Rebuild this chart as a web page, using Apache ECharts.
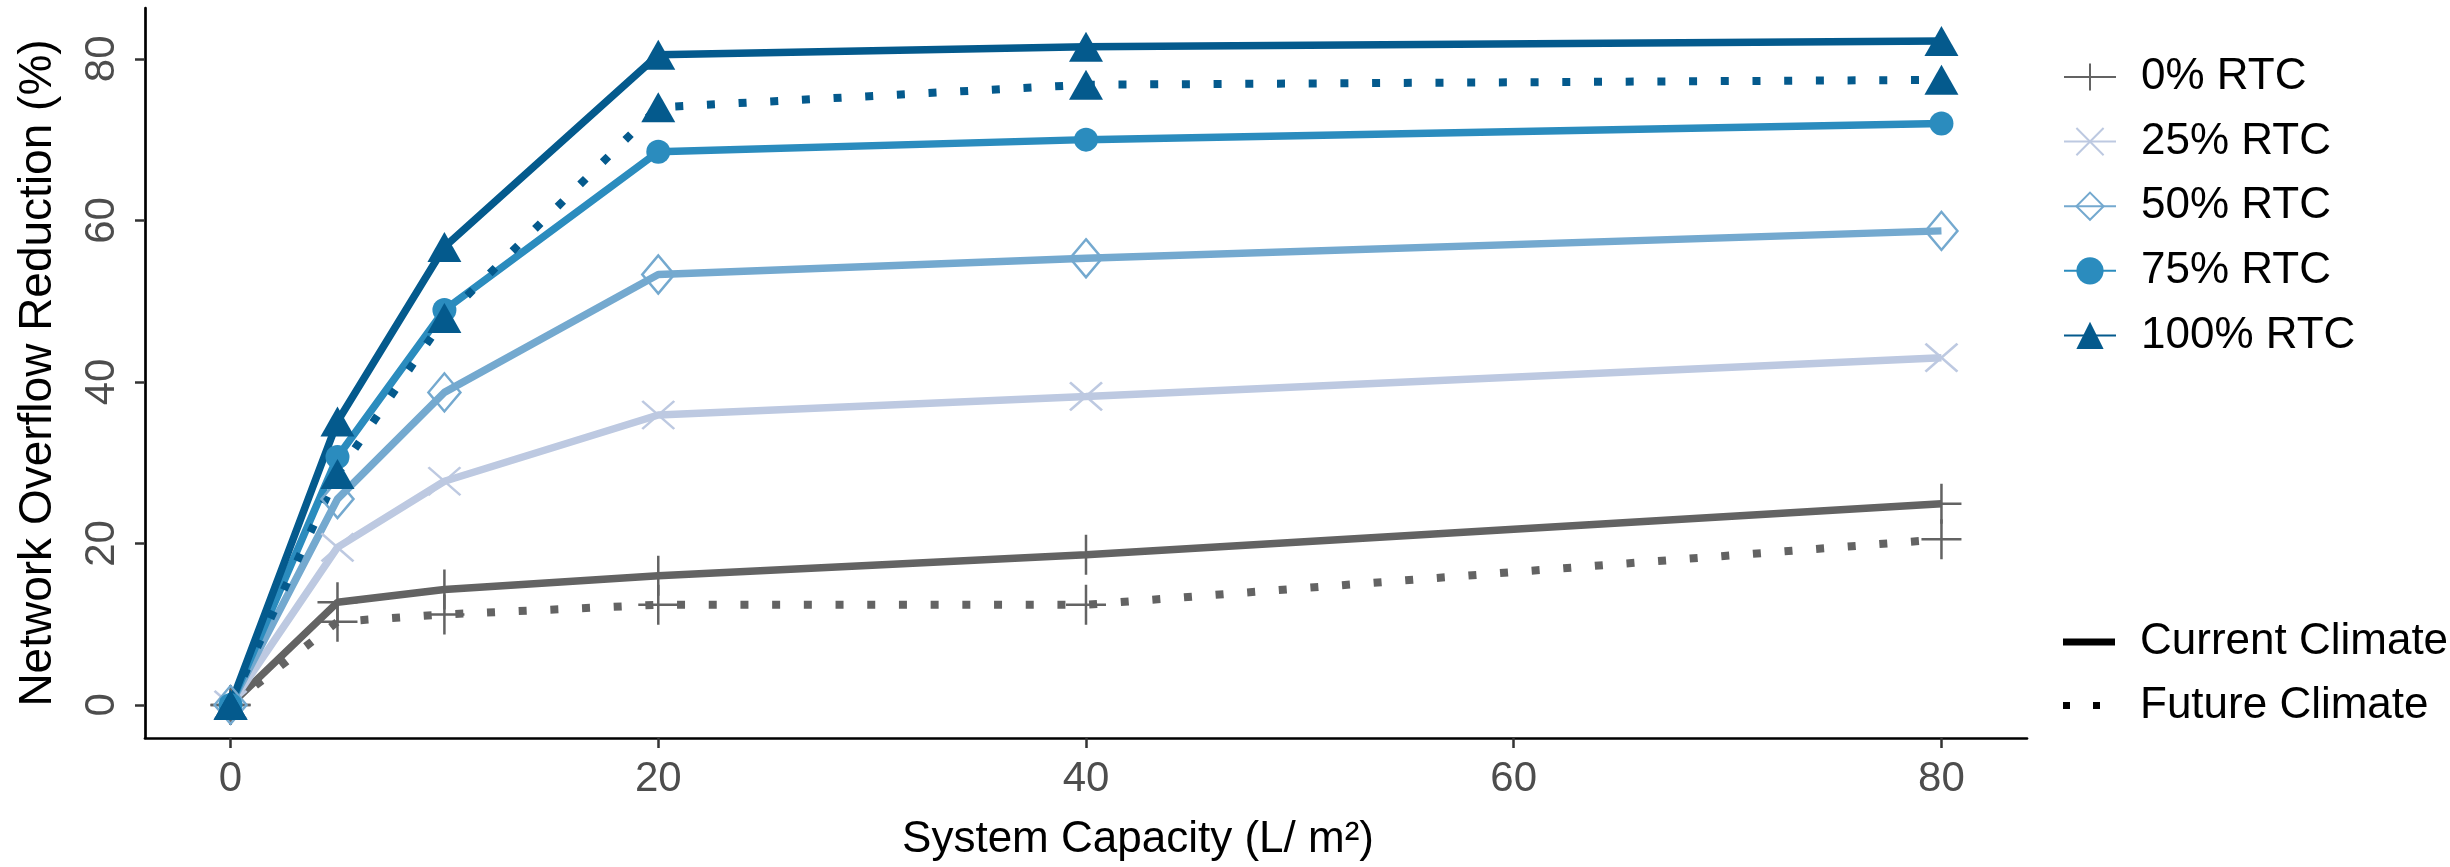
<!DOCTYPE html>
<html><head><meta charset="utf-8">
<script src="https://cdn.jsdelivr.net/npm/echarts@6/dist/echarts.min.js"></script>
<style>html,body{margin:0;padding:0;background:#fff}#c{width:2450px;height:867px}</style>
</head><body><div id="c"></div>
<script>
const capacity = [0, 5, 10, 20, 40, 80];
const rtc0Current = [0, 12.7, 14.3, 16.0, 18.6, 24.9];
const rtc0Future = [0, 10.3, 11.2, 12.4, 12.4, 20.5];
const rtc25Current = [0, 19.5, 27.7, 35.9, 38.2, 43.0];
const rtc50Current = [0, 25.5, 38.7, 53.3, 55.3, 58.7];
const rtc75Current = [0, 30.7, 48.9, 68.5, 70.0, 72.0];
const rtc100Current = [0, 35.1, 56.7, 80.5, 81.5, 82.2];
const rtc100Future = [0, 28.6, 47.9, 74.0, 76.8, 77.4];
const xTicks = [0, 20, 40, 60, 80];
const yTicks = [0, 20, 40, 60, 80];
const rtcNames = ['0% RTC', '25% RTC', '50% RTC', '75% RTC', '100% RTC'];
const climateNames = ['Current Climate', 'Future Climate'];
const xTitle = 'System Capacity (L/ m\u00B2)';
const yTitle = 'Network Overflow Reduction (%)';

const FONT = 'Liberation Sans, Arial, sans-serif';
const PLUS = 'path://M0,-1L0,1M-1,0L1,0';
const CROSS = 'path://M-1,-1L1,1M-1,1L1,-1';
const DIAMOND = 'path://M0,-1L1,0L0,1L-1,0Z';

function pts(vals) { return capacity.map((x, i) => [x, vals[i]]); }

function mk(name, vals, color, symbol, size, dotted, itemStyle) {
  return {
    type: 'line', name: name, data: pts(vals),
    symbol: symbol, symbolSize: size, showSymbol: true, showAllSymbol: true,
    lineStyle: dotted ? { color: color, width: 8, type: [8, 23.7], cap: 'butt' }
                      : { color: color, width: 7.5, cap: 'butt' },
    itemStyle: itemStyle || { color: color },
    emphasis: { disabled: true }, silent: true, z: 2
  };
}

const grey = '#636363', c25 = '#bdc9e1', c50 = '#74a9cf', c75 = '#2b8cbe', c100 = '#045a8d';

const series = [
  mk('0% RTC Future', rtc0Future, grey, PLUS, 40, true, { color: grey, borderColor: grey, borderWidth: 2.5 }),
  mk(rtcNames[0], rtc0Current, grey, PLUS, 40, false, { color: grey, borderColor: grey, borderWidth: 2.5 }),
  mk(rtcNames[1], rtc25Current, c25, CROSS, [32, 28], false, { color: c25, borderColor: c25, borderWidth: 2.5 }),
  mk(rtcNames[2], rtc50Current, c50, DIAMOND, [32, 38], false, { color: 'rgba(0,0,0,0)', borderColor: c50, borderWidth: 2.5 }),
  mk(rtcNames[3], rtc75Current, c75, 'circle', 24, false),
  mk('100% RTC Future', rtc100Future, c100, 'triangle', [34, 30], true),
  mk(rtcNames[4], rtc100Current, c100, 'triangle', [34, 30], false),
  { type: 'line', name: climateNames[0], data: [], itemStyle: { color: '#000' }, lineStyle: { color: '#000' } },
  { type: 'line', name: climateNames[1], data: [], itemStyle: { color: '#000' }, lineStyle: { color: '#000' } }
];

const chart = echarts.init(document.getElementById('c'), null, { renderer: 'canvas' });
chart.setOption({
  animation: false,
  backgroundColor: '#fff',
  grid: { left: 145, right: 423, top: 8, bottom: 126, containLabel: false },
  xAxis: {
    type: 'value', min: -4, max: 84,
    axisLine: { onZero: false, lineStyle: { color: '#000', width: 2.7 } },
    axisTick: { show: true, customValues: xTicks, length: 10, lineStyle: { color: '#333', width: 2.5 } },
    axisLabel: { customValues: xTicks, fontSize: 42, color: '#4d4d4d', margin: 20, fontFamily: FONT },
    splitLine: { show: false },
    name: xTitle, nameLocation: 'middle', nameGap: 80,
    nameTextStyle: { fontSize: 44, color: '#000', fontFamily: FONT, padding: [0, 0, 0, 104] }
  },
  yAxis: {
    type: 'value', min: -4.1, max: 86.3,
    axisLine: { onZero: false, lineStyle: { color: '#000', width: 2.7 } },
    axisTick: { show: true, customValues: yTicks, length: 10, lineStyle: { color: '#333', width: 2.5 } },
    axisLabel: { customValues: yTicks, fontSize: 42, color: '#4d4d4d', margin: 22, rotate: 90, fontFamily: FONT },
    splitLine: { show: false },
    name: yTitle, nameLocation: 'middle', nameGap: 84,
    nameTextStyle: { fontSize: 46, color: '#000', fontFamily: FONT }
  },
  legend: [
    {
      orient: 'vertical', left: 2058, top: 50, itemWidth: 52, itemHeight: 34, itemGap: 20.6,
      data: rtcNames, selectedMode: false,
      textStyle: { fontSize: 44, color: '#000', lineHeight: 34, fontFamily: FONT, padding: [0, 0, 0, 20] }
    },
    {
      orient: 'vertical', left: 2058, top: 615, itemWidth: 52, itemHeight: 7, itemGap: 19.5,
      data: [
        { name: climateNames[0], icon: 'rect' },
        { name: climateNames[1], icon: 'path://M0,0h7v7h-7zM30,0h7v7h-7zM51.9,0h0.1v0.1h-0.1z' }
      ],
      selectedMode: false,
      textStyle: { fontSize: 44, color: '#000', lineHeight: 34, fontFamily: FONT, padding: [0, 0, 0, 20] }
    }
  ],
  series: series
});
</script></body></html>
